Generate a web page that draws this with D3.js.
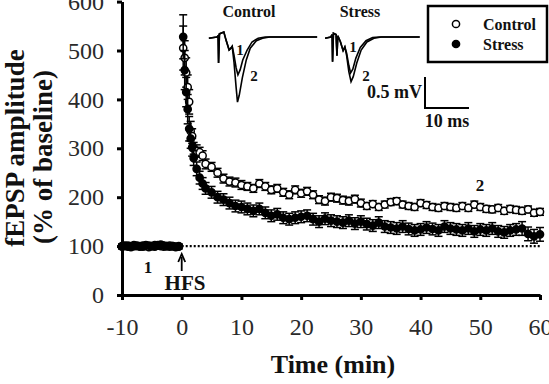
<!DOCTYPE html>
<html>
<head>
<meta charset="utf-8">
<script src="https://cdn.jsdelivr.net/npm/d3@7"></script>
<style>
  body { margin: 0; background: #fff; }
  svg text { font-family: "Liberation Serif", "Times New Roman", "DejaVu Serif", serif; }
  .axis path, .axis line { stroke: #000; stroke-width: 3; }
  .axis text { font-size: 24px; fill: #2a2a2a; }
  .bold { font-weight: bold; fill: #111; }
</style>
</head>
<body>
<div class="chart"></div>
<script>
// time points (min)
var baseTime = [-10, -9.5, -9, -8.5, -8, -7.5, -7, -6.5, -6, -5.5, -5, -4.5, -4, -3.5, -3, -2.5, -2, -1.5, -1, -0.5];
var postTime = [0.25, 0.5, 0.75, 1, 1.25, 1.5, 1.75, 2, 2.5, 3, 3.5, 4, 5, 6, 7, 8, 9, 10,
                11, 12, 13, 14, 15, 16, 17, 18, 19, 20, 21, 22, 23, 24, 25, 26, 27, 28, 29, 30,
                31, 32, 33, 34, 35, 36, 37, 38, 39, 40, 41, 42, 43, 44, 45, 46, 47, 48, 49, 50,
                51, 52, 53, 54, 55, 56, 57, 58, 59, 60];

// fEPSP amplitude, % of baseline
var controlBase = [100, 101, 99, 100, 102, 100, 99, 101, 100, 98, 100, 102, 101, 100, 99, 100, 101, 100, 99, 100];
var stressBase  = [99, 100, 101, 98, 100, 101, 100, 99, 102, 101, 100, 99, 102, 103, 101, 100, 99, 100, 98, 99];
var controlPost = [505, 485, 455, 425, 395, 335, 325, 300, 295, 292, 285, 268, 262, 250, 238, 232, 230, 225,
                   222, 218, 228, 222, 215, 218, 210, 205, 215, 208, 212, 205, 195, 192, 200, 198, 194, 192, 196, 188,
                   182, 186, 180, 185, 190, 192, 185, 182, 180, 188, 184, 180, 178, 182, 180, 178, 182, 178, 185, 180,
                   176, 175, 178, 172, 176, 174, 172, 175, 168, 170];
var stressPost  = [528, 460, 415, 380, 340, 320, 302, 280, 258, 240, 228, 218, 210, 200, 195, 188, 182, 180,
                   176, 172, 176, 168, 162, 165, 158, 155, 158, 160, 162, 155, 150, 156, 152, 150, 148, 152, 146, 150,
                   145, 142, 148, 140, 138, 136, 140, 135, 132, 134, 138, 135, 132, 140, 136, 134, 132, 136, 130, 134,
                   132, 136, 130, 128, 132, 134, 136, 125, 120, 124];
// SEM
var controlBaseErr = [4, 4, 4, 4, 4, 4, 4, 4, 4, 4, 4, 4, 4, 4, 4, 4, 4, 4, 4, 4];
var stressBaseErr  = [5, 5, 5, 5, 5, 5, 5, 5, 5, 5, 5, 5, 5, 5, 5, 5, 5, 5, 5, 5];
var controlPostErr = [45, 35, 30, 25, 25, 20, 15, 12, 12, 10, 10, 10, 9, 9, 9, 9, 9, 9,
                      8, 8, 8, 8, 8, 8, 8, 8, 8, 8, 8, 8, 8, 8, 8, 8, 8, 8, 8, 8,
                      7, 7, 7, 7, 7, 7, 7, 7, 7, 7, 7, 7, 7, 7, 7, 7, 7, 7, 7, 7,
                      7, 7, 7, 7, 7, 7, 7, 7, 7, 7];
var stressPostErr  = [45, 40, 30, 30, 25, 20, 18, 15, 14, 13, 12, 12, 12, 12, 12, 12, 12, 12,
                      12, 12, 12, 12, 12, 12, 12, 12, 12, 12, 12, 12, 12, 12, 12, 12, 12, 12, 12, 12,
                      12, 12, 12, 12, 12, 12, 12, 12, 12, 12, 12, 12, 12, 12, 12, 12, 12, 12, 12, 12,
                      12, 12, 12, 12, 12, 12, 14, 14, 14, 14];

var xTicks = [-10, 0, 10, 20, 30, 40, 50, 60];
var yTicks = [0, 100, 200, 300, 400, 500, 600];

// inset traces: time (ms), voltage (mV)
var ctrlTrace1 = [[0.2, -0.02], [2.0, 0], [2.3, 0.02], [2.4, -0.42], [2.6, 0.05], [3.6, 0.08], [4.1, -0.05],
                  [4.8, -0.21], [5.2, -0.18], [5.5, -0.15], [5.9, -0.29], [6.4, -0.5], [6.8, -0.61], [7.3, -0.53],
                  [7.9, -0.37], [8.9, -0.21], [10, -0.08], [11.4, -0.02], [13, 0], [24.8, 0]];
var ctrlTrace2 = [[0.2, -0.02], [2.0, 0], [2.3, 0.02], [2.4, -0.42], [2.6, 0.05], [3.6, 0.08], [4.1, -0.05],
                  [4.8, -0.21], [5.2, -0.18], [5.5, -0.15], [5.9, -0.40], [6.4, -0.82], [6.7, -1.05], [7.1, -0.94],
                  [7.8, -0.66], [8.7, -0.37], [9.6, -0.18], [11, -0.06], [12.4, -0.02], [14, 0], [24.8, 0]];
var strTrace1  = [[0.7, -0.02], [2.0, 0], [2.3, 0.04], [2.4, -0.40], [2.6, 0.06], [3.2, 0.04], [3.4, -0.30],
                  [3.6, 0.02], [4.2, -0.08], [4.8, -0.22], [5.2, -0.16], [5.6, -0.26], [6.1, -0.46], [6.5, -0.58],
                  [7.0, -0.52], [7.7, -0.34], [8.7, -0.17], [10, -0.06], [11.5, -0.01], [13, 0], [22.2, 0]];
var strTrace2  = [[0.7, -0.02], [2.0, 0], [2.3, 0.04], [2.4, -0.40], [2.6, 0.06], [3.2, 0.04], [3.4, -0.30],
                  [3.6, 0.02], [4.2, -0.08], [4.8, -0.22], [5.2, -0.16], [5.6, -0.30], [6.1, -0.56], [6.6, -0.72],
                  [7.1, -0.64], [7.9, -0.42], [8.9, -0.21], [10.2, -0.08], [11.8, -0.02], [13.5, 0], [22.2, 0]];

var width = 549, height = 384;
var serif = "'Liberation Serif', 'Times New Roman', 'DejaVu Serif', serif";

var svg = d3.select(".chart").append("svg")
    .attr("width", width)
    .attr("height", height)
    .style("display", "block");

var x = d3.scaleLinear().domain([-10, 60]).range([122, 540]);
var y = d3.scaleLinear().domain([0, 600]).range([295, 1.6]);

// dotted baseline
svg.append("line")
    .attr("x1", x(0)).attr("x2", x(60))
    .attr("y1", y(100)).attr("y2", y(100))
    .attr("stroke", "#000")
    .attr("stroke-width", 2.2)
    .attr("stroke-dasharray", "2,2");

function makePoints(t1, v1, e1, t2, v2, e2) {
    var pts = [];
    t1.forEach(function(t, i) { pts.push({t: t, v: v1[i], e: e1[i]}); });
    t2.forEach(function(t, i) { pts.push({t: t, v: v2[i], e: e2[i]}); });
    return pts;
}

var control = makePoints(baseTime, controlBase, controlBaseErr, postTime, controlPost, controlPostErr);
var stress = makePoints(baseTime, stressBase, stressBaseErr, postTime, stressPost, stressPostErr);

function drawSeries(data, filled, cls) {
    var g = svg.append("g").attr("class", cls);
    var eb = g.selectAll(".err").data(data).enter().append("g")
        .attr("class", "err")
        .attr("stroke", "#000")
        .attr("stroke-width", 1.5);
    eb.append("line")
        .attr("x1", function(d) { return x(d.t); })
        .attr("x2", function(d) { return x(d.t); })
        .attr("y1", function(d) { return y(d.v - d.e); })
        .attr("y2", function(d) { return y(d.v + d.e); });
    eb.append("line")
        .attr("x1", function(d) { return x(d.t) - 4; })
        .attr("x2", function(d) { return x(d.t) + 4; })
        .attr("y1", function(d) { return y(d.v + d.e); })
        .attr("y2", function(d) { return y(d.v + d.e); });
    eb.append("line")
        .attr("x1", function(d) { return x(d.t) - 4; })
        .attr("x2", function(d) { return x(d.t) + 4; })
        .attr("y1", function(d) { return y(d.v - d.e); })
        .attr("y2", function(d) { return y(d.v - d.e); });
    g.selectAll(".pt").data(data).enter().append("circle")
        .attr("class", "pt")
        .attr("cx", function(d) { return x(d.t); })
        .attr("cy", function(d) { return y(d.v); })
        .attr("r", 3.6)
        .attr("fill", filled ? "#000" : "#fff")
        .attr("stroke", "#000")
        .attr("stroke-width", 1.5);
}

drawSeries(control, false, "control");
drawSeries(stress, true, "stress");

// axes
svg.append("g")
    .attr("class", "axis")
    .attr("transform", "translate(0," + y(0) + ")")
    .call(d3.axisBottom(x).tickValues(xTicks).tickSize(5).tickSizeOuter(0).tickPadding(18)
        .tickFormat(function(d) { return String(d); }))
    .attr("font-family", serif);

svg.append("g")
    .attr("class", "axis")
    .attr("transform", "translate(" + x(-10) + ",0)")
    .call(d3.axisLeft(y).tickValues(yTicks).tickSize(5).tickSizeOuter(0).tickPadding(13)
        .tickFormat(function(d) { return String(d); }))
    .attr("font-family", serif);

// axis titles
svg.append("text")
    .attr("class", "bold")
    .attr("x", 333).attr("y", 373)
    .attr("text-anchor", "middle")
    .attr("font-size", 26)
    .text("Time (min)");

svg.append("text")
    .attr("class", "bold")
    .attr("transform", "translate(24,148) rotate(-90)")
    .attr("text-anchor", "middle")
    .attr("font-size", 27)
    .text("fEPSP amplitude");

svg.append("text")
    .attr("class", "bold")
    .attr("transform", "translate(52,157) rotate(-90)")
    .attr("text-anchor", "middle")
    .attr("font-size", 27)
    .text("(% of baseline)");

// HFS arrow and labels
svg.append("line")
    .attr("x1", x(0)).attr("x2", x(0))
    .attr("y1", 257).attr("y2", 271)
    .attr("stroke", "#000").attr("stroke-width", 1.8);
svg.append("path")
    .attr("d", "M" + (x(0) - 3.5) + ",262 L" + x(0) + ",254 L" + (x(0) + 3.5) + ",262")
    .attr("fill", "none").attr("stroke", "#000").attr("stroke-width", 1.8);
svg.append("text")
    .attr("class", "bold")
    .attr("x", 185).attr("y", 290)
    .attr("text-anchor", "middle")
    .attr("font-size", 21)
    .text("HFS");
svg.append("text")
    .attr("class", "bold")
    .attr("x", 148).attr("y", 273)
    .attr("text-anchor", "middle")
    .attr("font-size", 17)
    .text("1");
svg.append("text")
    .attr("class", "bold")
    .attr("x", 480).attr("y", 191)
    .attr("text-anchor", "middle")
    .attr("font-size", 17)
    .text("2");

// legend
var legend = svg.append("g");
legend.append("rect")
    .attr("x", 428).attr("y", 6)
    .attr("width", 119).attr("height", 56)
    .attr("fill", "#fff").attr("stroke", "#000").attr("stroke-width", 2.5);
legend.append("circle")
    .attr("cx", 456).attr("cy", 24).attr("r", 3.6)
    .attr("fill", "#fff").attr("stroke", "#000").attr("stroke-width", 1.5);
legend.append("circle")
    .attr("cx", 456).attr("cy", 44).attr("r", 3.6)
    .attr("fill", "#000").attr("stroke", "#000").attr("stroke-width", 1.5);
legend.append("text").attr("class", "bold")
    .attr("x", 483).attr("y", 30).attr("font-size", 16).text("Control");
legend.append("text").attr("class", "bold")
    .attr("x", 483).attr("y", 50).attr("font-size", 16).text("Stress");

// inset traces
var tx = d3.scaleLinear().domain([0, 10]).range([0, 44]);
var ty = d3.scaleLinear().domain([0, -0.5]).range([0, 31]);
var traceLine = d3.line()
    .x(function(d) { return tx(d[0]); })
    .y(function(d) { return ty(d[1]); });

function drawTraces(ox, oy, traces) {
    var g = svg.append("g").attr("transform", "translate(" + ox + "," + oy + ")");
    traces.forEach(function(tr) {
        g.append("path")
            .attr("d", traceLine(tr))
            .attr("fill", "none")
            .attr("stroke", "#000")
            .attr("stroke-width", 1.6);
    });
}
drawTraces(208, 37, [ctrlTrace1, ctrlTrace2]);
drawTraces(322, 37, [strTrace1, strTrace2]);

var insetLabels = [
    {x: 249, y: 17, s: 16, t: "Control"},
    {x: 360, y: 17, s: 16, t: "Stress"},
    {x: 240, y: 55, s: 15, t: "1"},
    {x: 254, y: 81, s: 15, t: "2"},
    {x: 353, y: 52, s: 15, t: "1"},
    {x: 366, y: 81, s: 15, t: "2"}
];
svg.selectAll(".inset-label").data(insetLabels).enter().append("text")
    .attr("class", "bold inset-label")
    .attr("x", function(d) { return d.x; })
    .attr("y", function(d) { return d.y; })
    .attr("text-anchor", "middle")
    .attr("font-size", function(d) { return d.s; })
    .text(function(d) { return d.t; });

// scale bar
svg.append("path")
    .attr("d", "M425,77 L425,108 L469,108")
    .attr("fill", "none").attr("stroke", "#000").attr("stroke-width", 2);
svg.append("text").attr("class", "bold")
    .attr("x", 422).attr("y", 98)
    .attr("text-anchor", "end").attr("font-size", 18).text("0.5 mV");
svg.append("text").attr("class", "bold")
    .attr("x", 447).attr("y", 127)
    .attr("text-anchor", "middle").attr("font-size", 18).text("10 ms");
</script>
</body>
</html>
